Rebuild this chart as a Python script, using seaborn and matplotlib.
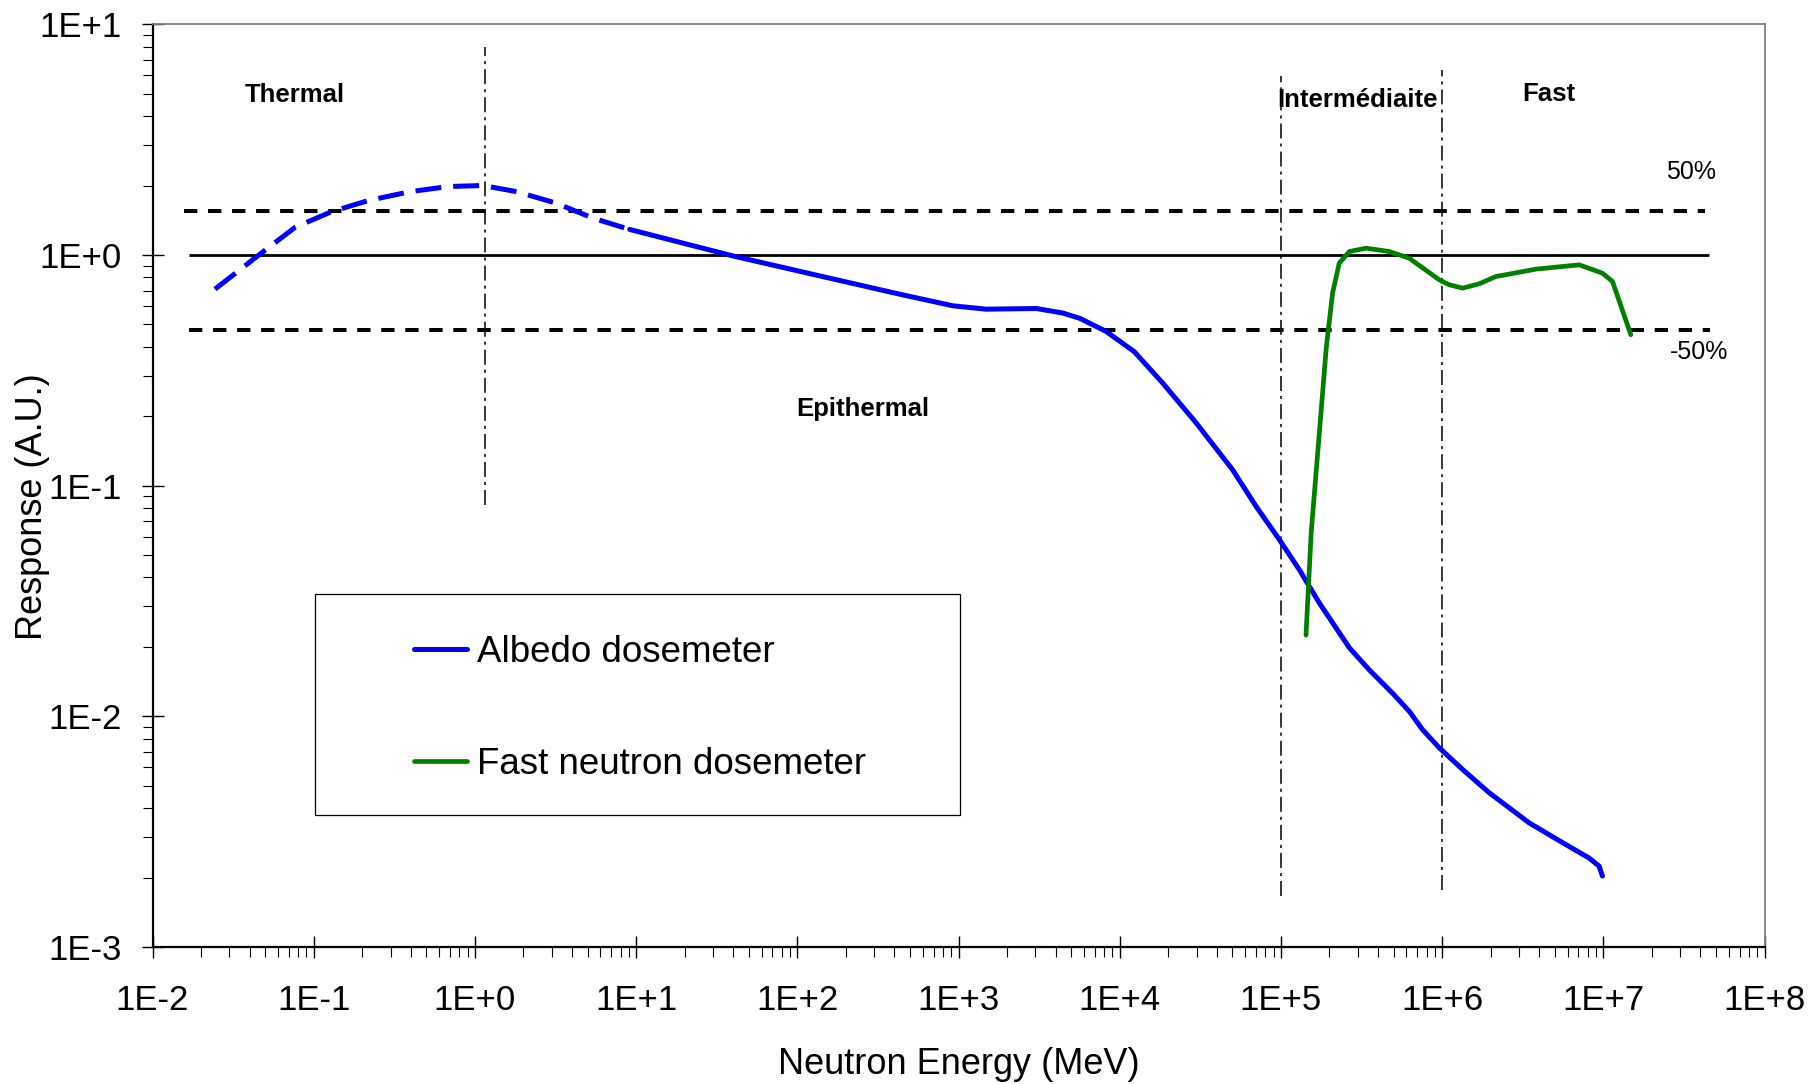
import numpy as np
import pandas as pd
import matplotlib
matplotlib.use("Agg")
import matplotlib.pyplot as plt
import seaborn as sns
from matplotlib.lines import Line2D
from matplotlib.patches import Rectangle
from matplotlib.ticker import FixedLocator, FixedFormatter, LogLocator, NullFormatter

# ---------------- data ----------------
albedo_thermal_energy = [0.0244, 0.0457, 0.0769, 0.129, 0.217, 0.394, 0.684, 1.12, 1.82, 3.16, 5.46, 9.12]
albedo_thermal_response = [0.711, 1.0, 1.32, 1.54, 1.72, 1.88, 1.98, 2.0, 1.88, 1.68, 1.44, 1.29]

albedo_energy = [9.12, 39.9, 137, 452, 923, 1485, 3033, 4436, 5623, 8240, 1.23e4, 1.85e4,
                 2.98e4, 5.02e4, 7.01e4, 9.78e4, 1.30e5, 1.73e5, 2.66e5, 3.53e5, 4.92e5,
                 6.25e5, 7.56e5, 9.6e5, 1.34e6, 1.96e6, 3.47e6, 5.85e6, 8.16e6, 9.42e6, 9.87e6]
albedo_response = [1.29, 0.99, 0.812, 0.671, 0.602, 0.582, 0.586, 0.56, 0.532, 0.466, 0.381, 0.278,
                   0.187, 0.117, 0.0813, 0.0583, 0.0432, 0.0310, 0.0198, 0.0159, 0.0126,
                   0.01051, 0.00875, 0.00730, 0.00588, 0.00466, 0.00345, 0.00278, 0.00243, 0.00224, 0.00203]

fast_energy = [1.43e5, 1.54e5, 1.73e5, 1.91e5, 2.09e5, 2.30e5, 2.66e5, 3.37e5, 4.70e5, 6.25e5,
               9.6e5, 1.11e6, 1.34e6, 1.70e6, 2.15e6, 3.82e6, 7.08e6, 9.87e6, 1.14e7, 1.48e7]
fast_response = [0.0225, 0.0624, 0.169, 0.395, 0.683, 0.922, 1.035, 1.07, 1.035, 0.968,
                 0.78, 0.742, 0.718, 0.75, 0.806, 0.868, 0.906, 0.834, 0.767, 0.451]

series_names = ["Albedo dosemeter", "Fast neutron dosemeter"]

reference_level = 1.0
upper_level = 1.55
lower_level = 0.475
reference_span = [0.0168, 4.5e7]
upper_span = [0.0157, 4.27e7]
lower_span = [0.0169, 4.58e7]

boundary_energies = [1.16, 1.0e5, 1.0e6]
boundary_tops = [8.0, 5.97, 6.34]
boundary_bottoms = [0.0826, 0.00167, 0.00177]

region_labels = ["Thermal", "Epithermal", "Intermédiaite", "Fast"]
region_label_x = [0.0758, 254, 2.98e5, 4.61e6]
region_label_y = [4.62, 0.201, 4.40, 4.67]

band_labels = ["50%", "-50%"]
band_label_x = [3.5e7, 3.9e7]
band_label_y = [2.13, 0.354]

x_tick_values = [1e-2, 1e-1, 1e0, 1e1, 1e2, 1e3, 1e4, 1e5, 1e6, 1e7, 1e8]
x_tick_labels = ["1E-2", "1E-1", "1E+0", "1E+1", "1E+2", "1E+3", "1E+4", "1E+5", "1E+6", "1E+7", "1E+8"]
y_tick_values = [1e-3, 1e-2, 1e-1, 1e0, 1e1]
y_tick_labels = ["1E-3", "1E-2", "1E-1", "1E+0", "1E+1"]

x_label = "Neutron Energy (MeV)"
y_label = "Response (A.U.)"

# ---------------- style ----------------
sns.set_theme(style="ticks")
plt.rcParams["font.family"] = ["Liberation Sans", "DejaVu Sans"]
plt.rcParams["lines.scale_dashes"] = False
for key in ["text.color", "axes.labelcolor", "xtick.color", "ytick.color"]:
    plt.rcParams[key] = "black"

BLUE = "#0000FF"
GREEN = "#008000"

fig = plt.figure(figsize=(18.18, 10.84), dpi=100)
ax = fig.add_axes([0.0839, 0.1264, 0.9706 - 0.0839, 0.9776 - 0.1264])
ax.set_xscale("log")
ax.set_yscale("log")
ax.set_xlim(x_tick_values[0], x_tick_values[-1])
ax.set_ylim(y_tick_values[0], y_tick_values[-1])

# threshold lines
ax.plot(reference_span, [reference_level] * 2, color="black", lw=2.0, solid_capstyle="butt", zorder=2)
ax.plot(upper_span, [upper_level] * 2, color="black", lw=2.9, linestyle=(0, (9.6, 7.7)), zorder=2)
ax.plot(lower_span, [lower_level] * 2, color="black", lw=2.9, linestyle=(0, (9.6, 7.7)), zorder=2)

# region boundaries
for xe, yt, yb in zip(boundary_energies, boundary_tops, boundary_bottoms):
    ax.plot([xe, xe], [yb, yt], color="black", lw=1.1, linestyle=(0, (10.8, 3.6, 2.2, 3.6)), zorder=2)

# curves
df_thermal = pd.DataFrame({"energy": albedo_thermal_energy, "response": albedo_thermal_response})
df_albedo = pd.DataFrame({"energy": albedo_energy, "response": albedo_response})
df_fast = pd.DataFrame({"energy": fast_energy, "response": fast_response})

sns.lineplot(data=df_thermal, x="energy", y="response", ax=ax, color=BLUE, lw=3.6,
             linestyle=(0, (18.7, 8.6)), legend=False, zorder=3)
sns.lineplot(data=df_albedo, x="energy", y="response", ax=ax, color=BLUE, lw=3.6,
             legend=False, zorder=3, solid_capstyle="round", solid_joinstyle="round")
sns.lineplot(data=df_fast, x="energy", y="response", ax=ax, color=GREEN, lw=3.4,
             legend=False, zorder=3, solid_capstyle="round", solid_joinstyle="round")

# annotations
for t, xv, yv in zip(region_labels, region_label_x, region_label_y):
    ax.text(xv, yv, t, ha="center", va="baseline", fontsize=18.5, fontweight="bold", color="black")
for t, xv, yv in zip(band_labels, band_label_x, band_label_y):
    ax.text(xv, yv, t, ha="center", va="baseline", fontsize=18, color="black")

# axes ticks
ax.xaxis.set_major_locator(FixedLocator(x_tick_values))
ax.xaxis.set_major_formatter(FixedFormatter(x_tick_labels))
ax.yaxis.set_major_locator(FixedLocator(y_tick_values))
ax.yaxis.set_major_formatter(FixedFormatter(y_tick_labels))
ax.xaxis.set_minor_locator(LogLocator(base=10, subs=np.arange(2, 10), numticks=100))
ax.yaxis.set_minor_locator(LogLocator(base=10, subs=np.arange(2, 10), numticks=100))
ax.xaxis.set_minor_formatter(NullFormatter())
ax.yaxis.set_minor_formatter(NullFormatter())

ax.tick_params(which="major", direction="inout", length=15.8, width=1.0, colors="black", labelsize=25)
ax.tick_params(which="minor", direction="out", length=7.0, width=0.8, colors="black")
ax.tick_params(axis="x", which="major", pad=19)
ax.tick_params(axis="y", which="major", pad=14)
ax.tick_params(bottom=True, left=True, top=False, right=False, which="both")

for side in ["left", "bottom"]:
    ax.spines[side].set_color("black")
    ax.spines[side].set_linewidth(1.6)
for side in ["top", "right"]:
    ax.spines[side].set_color("#808080")
    ax.spines[side].set_linewidth(1.3)

ax.set_xlabel(x_label, fontsize=26, color="black")
ax.set_ylabel(y_label, fontsize=26, color="black")
ax.xaxis.set_label_coords(0.5, -0.108)
ax.yaxis.set_label_coords(-0.0636, 0.477)

# legend
ax.add_patch(Rectangle((0.101, 0.143), 0.40, 0.24, transform=ax.transAxes, fill=False,
                       edgecolor="black", lw=0.9, zorder=4))
handles = [Line2D([], [], color=BLUE, lw=3.6), Line2D([], [], color=GREEN, lw=3.4)]
leg = ax.legend(handles, series_names, loc="center left", bbox_to_anchor=(0.1622, 0.2586),
                frameon=False, fontsize=26.5, handlelength=1.45, handletextpad=0.25,
                borderpad=0, borderaxespad=0, labelspacing=2.08)
for txt in leg.get_texts():
    txt.set_color("black")

fig.savefig("out.png", dpi=100, facecolor="white")
